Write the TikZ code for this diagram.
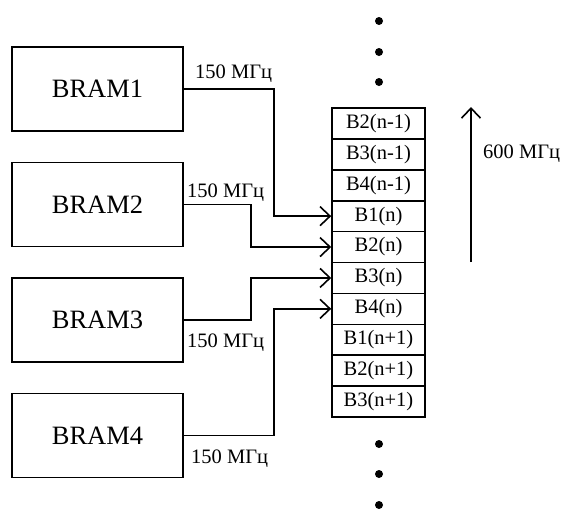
\documentclass[tikz,border=0pt]{standalone}
\usepackage{fontspec}
\setmainfont{Liberation Serif}
\usetikzlibrary{arrows.meta}
\begin{document}
\begin{tikzpicture}[x=1pt,y=-1pt,
  lw/.style={line width=1.6pt},
  bram/.style={draw,lw,minimum width=171pt,minimum height=84pt,inner sep=0pt,font=\fontsize{26.5}{30}\selectfont},
  cell/.style={draw,lw,minimum width=93pt,minimum height=30.9pt,inner sep=0pt,font=\fontsize{20.5}{24}\selectfont},
  lbl/.style={inner sep=0pt,anchor=base west,font=\fontsize{20.5}{24}\selectfont},
  wire/.style={lw,-{Straight Barb[length=10pt,width=19pt,line width=1.6pt]}},
  dot/.style={fill=black,draw=none}]
\useasboundingbox (0,0) rectangle (567,509);
% BRAM blocks
\node[bram] (b1) at (97.5,89) {BRAM1};
\node[bram] (b2) at (97.5,204.5) {BRAM2};
\node[bram] (b3) at (97.5,320) {BRAM3};
\node[bram] (b4) at (97.5,435.5) {BRAM4};
% stack cells
\node[cell] (c1) at (378.5,123.45) {B2(n-1)};
\node[cell] (c2) at (378.5,154.35) {B3(n-1)};
\node[cell] (c3) at (378.5,185.25) {B4(n-1)};
\node[cell] (c4) at (378.5,216.15) {B1(n)};
\node[cell] (c5) at (378.5,247.05) {B2(n)};
\node[cell] (c6) at (378.5,277.95) {B3(n)};
\node[cell] (c7) at (378.5,308.85) {B4(n)};
\node[cell] (c8) at (378.5,339.75) {B1(n+1)};
\node[cell] (c9) at (378.5,370.65) {B2(n+1)};
\node[cell] (c10) at (378.5,401.55) {B3(n+1)};
% connectors
\draw[wire] (b1.east) -- (274,89) |- (c4.west);
\draw[wire] (b2.east) -- (251,204.5) |- (c5.west);
\draw[wire] (b3.east) -- (251,320) |- (c6.west);
\draw[wire] (b4.east) -- (274,435.5) |- (c7.west);
% labels
\node[lbl] (l1) at (195,78) {150 МГц};
\node[lbl] (l2) at (187,197) {150 МГц};
\node[lbl] (l3) at (187,347) {150 МГц};
\node[lbl] (l4) at (191,463) {150 МГц};
% dots
\fill[dot] (379,21) circle (4);
\fill[dot] (379,52) circle (4);
\fill[dot] (379,82) circle (4);
\fill[dot] (379,444) circle (4);
\fill[dot] (379,474) circle (4);
\fill[dot] (379,505) circle (4);
% 600 MHz arrow
\coordinate (a0) at (471,262);
\coordinate (a1) at (471,107);
\draw[wire] (a0) -- (a1);
\node[lbl] (l5) at (483,158) {600 МГц};
\end{tikzpicture}
\end{document}
